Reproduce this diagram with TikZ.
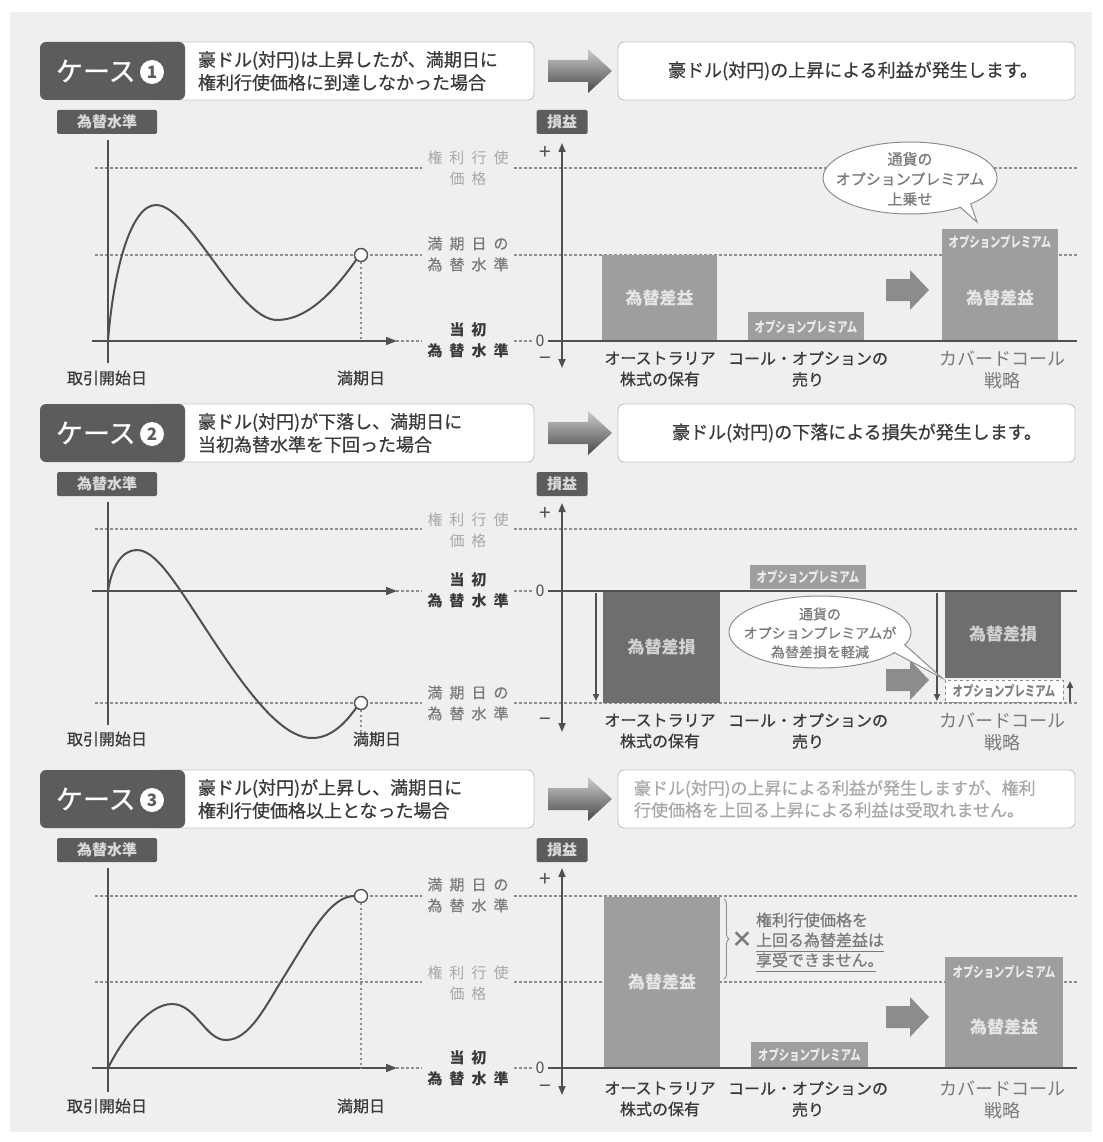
\documentclass[tikz,border=0pt]{standalone}
\usepackage{fontspec}
\setmainfont{Noto Sans CJK JP}
\newfontfamily\jpmed[FakeBold=0.7]{Noto Sans CJK JP}
\usetikzlibrary{arrows.meta,shapes.geometric,decorations.pathreplacing}
\definecolor{panel}{HTML}{EFEFEF}
\definecolor{dkbox}{HTML}{5C5C5C}
\definecolor{bord}{HTML}{C4C4C4}
\definecolor{txt}{HTML}{3A3A3A}
\definecolor{axc}{HTML}{505050}
\definecolor{dotc}{HTML}{8E8E8E}
\definecolor{barc}{HTML}{9E9E9E}
\definecolor{bardk}{HTML}{6E6E6E}
\definecolor{lgt}{HTML}{7A7A7A}
\definecolor{pale}{HTML}{A8A8A8}
\definecolor{bubc}{HTML}{8C8C8C}
\newcommand\fsz[2]{\fontsize{#1}{#2}\selectfont}
\newcommand\lsp{\hspace{7pt}}
\tikzset{
  hdrbox/.style={draw=bord, fill=white, rounded corners=6pt, line width=0.9pt},
  hdrdark/.style={fill=dkbox, rounded corners=6pt},
  casetxt/.style={text=white, font=\jpmed\fsz{27}{27}},
  numc/.style={circle, fill=white, minimum size=24pt, text=dkbox, font=\fsz{17}{17}\bfseries},
  hdrtxt/.style={text=txt, font=\jpmed\fsz{18}{23}, align=left},
  restxt/.style={text=txt, font=\jpmed\fsz{18}{23}},
  lblbox/.style={fill=dkbox, text=white!85!black, font=\fsz{15}{15}\bfseries, rounded corners=1.5pt, minimum height=24pt},
  dotl/.style={draw=dotc, line width=1.7pt, dash pattern=on 2.5pt off 2.5pt},
  axisl/.style={draw=axc, line width=1.6pt},
  curvel/.style={draw=axc, line width=2pt},
  lvl/.style={font=\jpmed\fsz{15}{21}, align=center},
  barl/.style={fill=barc, text=white!90!black, font=\fsz{17}{17}\bfseries},
  bard/.style={fill=bardk, text=white!82!black, font=\fsz{17}{17}\bfseries},
  prem/.style={font=\fsz{14}{14}\bfseries, text=white!92!black, xscale=0.74},
  botl/.style={font=\jpmed\fsz{16}{21}, text=txt, align=center},
  botc/.style={font=\fsz{18}{22}, text=lgt, align=center},
  datel/.style={font=\jpmed\fsz{16}{16}, text=txt},
  pm/.style={font=\fsz{21}{21}, text=axc},
  zero/.style={font=\fsz{16}{16}, text=axc},
  mk/.style={circle, draw=axc, fill=white, line width=1.4pt, minimum size=13pt},
  bubble/.style={draw=bubc, fill=white, line width=1pt},
  bubtxt/.style={text=lgt, align=center},
  tip/.style={-{Triangle[length=7pt,width=6pt]}},
}
\newcommand\casehead[4]{%
  \node[hdrbox, minimum width=380pt, minimum height=58pt] (hw#4) at (344,#1) {};
  \node[hdrdark, minimum width=145pt, minimum height=58pt] (hd#4) at (112.5,#1) {};
  \node[casetxt, anchor=west] (ht#4) at (56,#1) {ケース};
  \node[numc] (hn#4) at (152,{#1+1}) {#2};
  \node[hdrtxt, anchor=west] (hx#4) at (198,#1) {#3};
  \shade[top color=black!20, bottom color=black!72] (548,{#1-11}) -- (588,{#1-11}) -- (588,{#1-22}) -- (612,#1) -- (588,{#1+22}) -- (588,{#1+11}) -- (548,{#1+11}) -- cycle;
  \node[hdrbox, minimum width=457pt, minimum height=58pt] (hr#4) at (846.5,#1) {};
}
\newcommand\blockarrow[1]{%
  \fill[black!45] (886,{#1-11}) -- (910,{#1-11}) -- (910,{#1-20}) -- (929,#1) -- (910,{#1+20}) -- (910,{#1+11}) -- (886,{#1+11}) -- cycle;}
\begin{document}
\begin{tikzpicture}[x=1pt,y=-1pt, every node/.style={inner sep=0pt, outer sep=0pt}]
\useasboundingbox (0,0) rectangle (1102,1142);
\fill[white] (0,0) rectangle (1102,1142);
\fill[panel] (10,12) rectangle (1092,1132);

%================ CASE 1 ================
\casehead{71}{1}{豪ドル(対円)は上昇したが、満期日に\\権利行使価格に到達しなかった場合}{1}
\node[restxt] (hrt1) at (853,71) {豪ドル(対円)の上昇による利益が発生します。};

% left chart
\node[lblbox, minimum width=100pt] (lv1) at (107,122) {為替水準};
\draw[dotl] (95,168) -- (422,168);
\draw[dotl] (95,255) -- (422,255);
\draw[dotl] (514,168) -- (1077,168);
\draw[dotl] (514,255) -- (1077,255);
\draw[dotl] (396,341) -- (422,341);
\draw[dotl] (514,341) -- (532,341);
\draw[axisl] (108,140) -- (108,363);
\draw[axisl, -{Triangle[length=11pt,width=8pt]}] (92,341) -- (397,341);
\node[lvl, text=pale, font=\fsz{15}{21}] (k1) at (468,168) {権\lsp 利\lsp 行\lsp 使\\価\lsp 格};
\node[lvl, text=lgt] (m1) at (468,254) {満\lsp 期\lsp 日\lsp の\\為\lsp 替\lsp 水\lsp 準};
\node[lvl, text=txt, font=\fsz{15}{21}\bfseries] (s1) at (468,340) {当\lsp 初\\為\lsp 替\lsp 水\lsp 準};
\node[mk] (e1) at (361,255) {};
\coordinate (f1) at (361,341);
\draw[dotl] (e1.south) -- (f1);
\draw[curvel] (108,341) .. controls (114,265) and (132,205) .. (156,205) .. controls (190,205) and (238,320) .. (277,320) .. controls (308,320) and (335,290) .. (e1.225);
\node[datel] (d11) at (107,378) {取引開始日};
\node[datel] (d12) at (361,378) {満期日};

% right chart
\node[lblbox, minimum width=51pt] (pl1) at (562,122) {損益};
\node[barl, minimum width=115pt, minimum height=86pt] (b11) at (659.5,298) {為替差益};
\node[fill=barc, minimum width=116pt, minimum height=29pt] (b12) at (806,326.5) {};
\node[prem] (p12) at (806,327) {オプションプレミアム};
\node[fill=barc, minimum width=116pt, minimum height=112pt] (b13) at (1000,285) {};
\node[prem] (p13) at (1000,242) {オプションプレミアム};
\node[barl, fill=none] (t13) at (1000,298) {為替差益};
\blockarrow{290}
\draw[axisl] (548,341) -- (1077,341);
\draw[axisl, {Triangle[length=9pt,width=7pt]}-{Triangle[length=9pt,width=7pt]}] (562,143) -- (562,368);
\node[pm] (pp1) at (545,153) {+};
\node[pm] (pm1) at (545,361) {−};
\node[zero] (z1) at (540,341) {0};
\node[ellipse, bubble, minimum width=174pt, minimum height=72pt] (bb1) at (910,178) {};
\draw[bubble] (952,200) -- (977,222) -- (968,196) -- cycle;
\fill[white] (910,178) ellipse [x radius=86pt, y radius=35pt];
\node[bubtxt, font=\jpmed\fsz{15}{20}] (bt1) at (910,179) {通貨の\\オプションプレミアム\\上乗せ};
\node[botl] (u11) at (660,369) {オーストラリア\\株式の保有};
\node[botl] (u12) at (808,369) {コール・オプションの\\売り};
\node[botc] (u13) at (1002,370) {カバードコール\\戦略};

%================ CASE 2 ================
\casehead{433}{2}{豪ドル(対円)が下落し、満期日に\\当初為替水準を下回った場合}{2}
\node[restxt] (hrt2) at (857,433) {豪ドル(対円)の下落による損失が発生します。};

% left chart
\node[lblbox, minimum width=100pt] (lv2) at (107,484) {為替水準};
\draw[dotl] (95,529) -- (422,529);
\draw[dotl] (95,703) -- (422,703);
\draw[dotl] (514,529) -- (1077,529);
\draw[dotl] (514,703) -- (1077,703);
\draw[dotl] (396,591) -- (422,591);
\draw[dotl] (514,591) -- (532,591);
\draw[axisl] (108,502) -- (108,725);
\draw[axisl, -{Triangle[length=11pt,width=8pt]}] (92,591) -- (397,591);
\node[lvl, text=pale, font=\fsz{15}{21}] (k2) at (468,530) {権\lsp 利\lsp 行\lsp 使\\価\lsp 格};
\node[lvl, text=txt, font=\fsz{15}{21}\bfseries] (s2) at (468,590) {当\lsp 初\\為\lsp 替\lsp 水\lsp 準};
\node[lvl, text=lgt] (m2) at (468,703) {満\lsp 期\lsp 日\lsp の\\為\lsp 替\lsp 水\lsp 準};
\node[mk] (e2) at (361,703) {};
\coordinate (f2) at (361,731);
\draw[dotl, line width=1.2pt] (e2.south) -- (f2);
\draw[curvel] (108,591) .. controls (112,566) and (122,550) .. (137,550) .. controls (160,550) and (185,600) .. (230,665) .. controls (265,715) and (290,738) .. (312,738) .. controls (332,738) and (346,722) .. (e2.225);
\node[datel] (d21) at (107,739) {取引開始日};
\node[datel] (d22) at (377,739) {満期日};

% right chart
\node[lblbox, minimum width=51pt] (pl2) at (562,484) {損益};
\node[bard, minimum width=117pt, minimum height=112pt] (b21) at (661.5,647) {為替差損};
\node[fill=barc, minimum width=116pt, minimum height=24pt] (b22) at (808,577) {};
\node[prem] (p22) at (808,577) {オプションプレミアム};
\node[bard, minimum width=116pt, minimum height=87pt] (b23) at (1003,634.5) {為替差損};
\node[draw=bubc, dashed, fill=white, minimum width=118pt, minimum height=22pt] (b24) at (1004,691) {};
\node[prem, text=black!50] (p24) at (1004,691) {オプションプレミアム};
\blockarrow{680}
\draw[axisl] (548,591) -- (1077,591);
\draw[axisl, {Triangle[length=9pt,width=7pt]}-{Triangle[length=9pt,width=7pt]}] (562,503) -- (562,732);
\node[pm] (pp2) at (545,514) {+};
\node[pm] (pm2) at (545,722) {−};
\node[zero] (z2) at (540,591) {0};
\coordinate (a21) at (596,593); \coordinate (a22) at (596,701);
\draw[axisl, tip] (a21) -- (a22);
\coordinate (a23) at (937,593); \coordinate (a24) at (937,701);
\draw[axisl, tip] (a23) -- (a24);
\coordinate (a25) at (1070,702); \coordinate (a26) at (1070,681);
\draw[axisl, tip] (a25) -- (a26);
\node[ellipse, bubble, minimum width=182pt, minimum height=72pt] (bb2) at (820,632) {};
\draw[bubble] (880,645) -- (942,678) -- (895,636) -- cycle;
\fill[white] (820,632) ellipse [x radius=90pt, y radius=35pt];
\node[bubtxt, font=\jpmed\fsz{14}{19}] (bt2) at (820,633) {通貨の\\オプションプレミアムが\\為替差損を軽減};
\node[botl] (u21) at (660,731) {オーストラリア\\株式の保有};
\node[botl] (u22) at (808,731) {コール・オプションの\\売り};
\node[botc] (u23) at (1002,732) {カバードコール\\戦略};

%================ CASE 3 ================
\casehead{799}{3}{豪ドル(対円)が上昇し、満期日に\\権利行使価格以上となった場合}{3}
\node[restxt, text=pale, align=left, anchor=west, font=\jpmed\fsz{17}{22}] (hrt3) at (634,799) {豪ドル(対円)の上昇による利益が発生しますが、権利\\行使価格を上回る上昇による利益は受取れません。};

% left chart
\node[lblbox, minimum width=100pt] (lv3) at (107,850) {為替水準};
\draw[dotl] (95,896) -- (422,896);
\draw[dotl] (95,982) -- (422,982);
\draw[dotl] (514,896) -- (1077,896);
\draw[dotl] (514,982) -- (1077,982);
\draw[dotl] (396,1068) -- (422,1068);
\draw[dotl] (514,1068) -- (532,1068);
\draw[axisl] (108,868) -- (108,1092);
\draw[axisl, -{Triangle[length=11pt,width=8pt]}] (92,1068) -- (397,1068);
\node[lvl, text=lgt] (m3) at (468,895) {満\lsp 期\lsp 日\lsp の\\為\lsp 替\lsp 水\lsp 準};
\node[lvl, text=pale, font=\fsz{15}{21}] (k3) at (468,983) {権\lsp 利\lsp 行\lsp 使\\価\lsp 格};
\node[lvl, text=txt, font=\fsz{15}{21}\bfseries] (s3) at (468,1068) {当\lsp 初\\為\lsp 替\lsp 水\lsp 準};
\node[mk] (e3) at (361,896) {};
\coordinate (f3) at (361,1068);
\draw[dotl] (e3.south) -- (f3);
\draw[curvel] (108,1068) .. controls (122,1040) and (148,1004) .. (172,1004) .. controls (196,1004) and (205,1040) .. (226,1040) .. controls (250,1040) and (266,1005) .. (285,975) .. controls (310,935) and (330,896) .. (e3.180);
\node[datel] (d31) at (107,1106) {取引開始日};
\node[datel] (d32) at (361,1106) {満期日};

% right chart
\node[lblbox, minimum width=51pt] (pl3) at (562,850) {損益};
\node[barl, minimum width=116pt, minimum height=171pt] (b31) at (662,982.5) {為替差益};
\node[fill=barc, minimum width=117pt, minimum height=26pt] (b32) at (809.5,1054.5) {};
\node[prem] (p32) at (809.5,1055) {オプションプレミアム};
\node[fill=barc, minimum width=118pt, minimum height=111pt] (b33) at (1004,1012.5) {};
\node[prem] (p33) at (1004,972) {オプションプレミアム};
\node[barl, fill=none] (t33) at (1004,1027) {為替差益};
\blockarrow{1017}
\draw[axisl] (548,1068) -- (1077,1068);
\draw[axisl, {Triangle[length=9pt,width=7pt]}-{Triangle[length=9pt,width=7pt]}] (562,868) -- (562,1095);
\node[pm] (pp3) at (545,880) {+};
\node[pm] (pm3) at (545,1089) {−};
\node[zero] (z3) at (540,1068) {0};
\draw[bubc, line width=0.9pt, decorate, decoration={brace, amplitude=5pt}] (724,899) -- (724,979);
\node[text=lgt, font=\fsz{22}{22}\bfseries] (x3) at (742,940) {×};
\node[anchor=west, align=left, font=\jpmed\fsz{16}{20}, text=lgt] (nt3) at (756,940) {権利行使価格を\\上回る為替差益は\\享受できません。};
\draw[lgt, line width=0.8pt] (756,951) -- (884,951);
\draw[lgt, line width=0.8pt] (756,971) -- (876,971);
\node[botl] (u31) at (660,1099) {オーストラリア\\株式の保有};
\node[botl] (u32) at (808,1099) {コール・オプションの\\売り};
\node[botc] (u33) at (1002,1100) {カバードコール\\戦略};
\end{tikzpicture}
\end{document}
